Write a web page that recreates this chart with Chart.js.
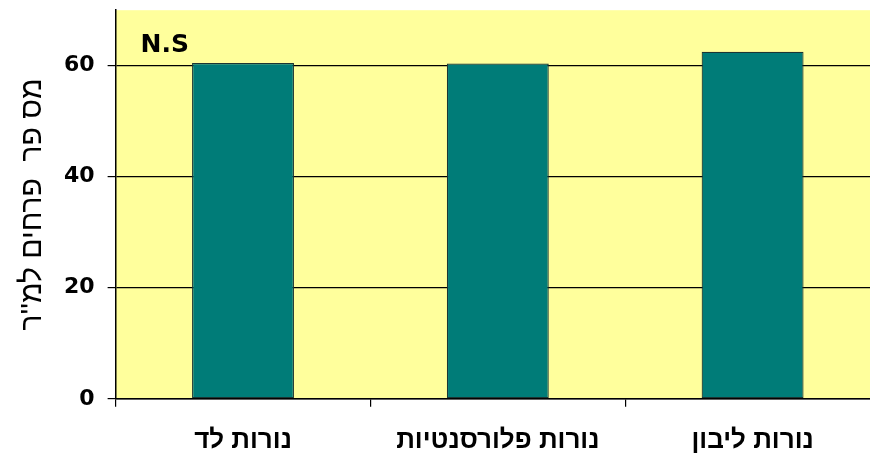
<!DOCTYPE html>
<html>
<head>
<meta charset="utf-8">
<script src="https://cdn.jsdelivr.net/npm/chart.js@4"></script>
<style>
  html, body { margin: 0; padding: 0; background: #fff; overflow: hidden; }
  #wrap { width: 895px; height: 493px; margin-top: -16px; }
</style>
</head>
<body>
<div id="wrap"><canvas id="grafico" width="895" height="493"></canvas></div>
<script>
const categorias = ["נורות לד", "נורות פלורסנטיות", "נורות ליבון"];
const valores = [60.5, 60.4, 62.5];
const ticksY = [0, 20, 40, 60];
const tituloY = "מס פר  פרחים למ''ר";
const rotulo = "N.S";

// fundo amarelo da área do gráfico + texto N.S
const fundoArea = {
  id: "fundoArea",
  beforeDraw(chart) {
    const { ctx, chartArea: a } = chart;
    ctx.save();
    ctx.fillStyle = "#ffff9c";
    ctx.fillRect(a.left, a.top, chart.width - a.left, a.bottom - a.top);
    ctx.restore();
  },
  afterDraw(chart) {
    const { ctx, chartArea: a } = chart;
    ctx.save();
    ctx.fillStyle = "#000";
    ctx.font = "bold 25px 'DejaVu Sans'";
    ctx.textBaseline = "alphabetic";
    ctx.fillText(rotulo, a.left + 25, a.top + 42);
    ctx.restore();
  },
};

new Chart(document.getElementById("grafico"), {
  type: "bar",
  data: {
    labels: categorias,
    datasets: [
      {
        data: valores,
        backgroundColor: "#007c78",
        borderColor: "#1b3534",
        borderWidth: 1.2,
        borderSkipped: false,
        barPercentage: 0.4,
        categoryPercentage: 1,
      },
    ],
  },
  options: {
    responsive: false,
    animation: false,
    layout: { padding: { top: 10, right: 15, bottom: 3, left: 0 } },
    plugins: { legend: { display: false }, tooltip: { enabled: false } },
    scales: {
      x: {
        grid: {
          offset: true,
          drawOnChartArea: false,
          color: "#000",
          tickLength: 8,
          lineWidth: 1.2,
        },
        border: { color: "#000", width: 1.5 },
        ticks: {
          color: "#000",
          padding: 18,
          font: { family: "'Liberation Sans'", size: 26, weight: "bold" },
        },
      },
      y: {
        min: 0,
        max: 70,
        afterBuildTicks: (scale) => {
          scale.ticks = ticksY.map((v) => ({ value: v }));
        },
        grid: { color: "#000", lineWidth: 1.2, tickLength: 8 },
        border: { color: "#000", width: 1.5 },
        ticks: {
          color: "#000",
          padding: 13,
          font: { family: "'DejaVu Sans'", size: 22, weight: "bold" },
        },
        title: {
          display: true,
          text: tituloY,
          color: "#000",
          padding: { top: 15, bottom: 0 },
          font: { family: "'Liberation Sans'", size: 30 },
        },
      },
    },
  },
  plugins: [fundoArea],
});
</script>
</body>
</html>
